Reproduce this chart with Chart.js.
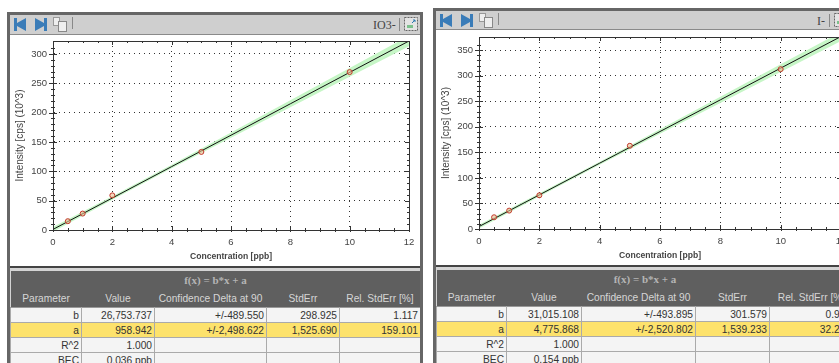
<!DOCTYPE html>
<html>
<head>
<meta charset="utf-8">
<script src="https://cdn.jsdelivr.net/npm/chart.js@4"></script>
<style>
html, body { margin: 0; padding: 0; background: #fff; width: 839px; height: 363px; overflow: hidden; }
body { position: relative; font-family: "Liberation Sans", Arial, sans-serif; color: #444; }
.panel { position: absolute; background: #d4d4d4; box-sizing: border-box; border: 3px solid #666; border-bottom: 0; overflow: hidden; }
.bar { position: absolute; left: 0; right: 0; top: 0; background: #cfcfcf; box-sizing: border-box; border-bottom: 1px solid #8a8a8a; }
.bar svg { position: absolute; left: 3px; top: 1px; }
.species { position: absolute; top: 3px; font: 12px "Liberation Serif", serif; color: #444; }
.sep { position: absolute; top: 3px; width: 1px; height: 13px; background: #888; }
.plot { position: absolute; background: #fff; border-bottom: 2px solid #444; }
canvas { display: block; }
table { position: absolute; border-collapse: collapse; table-layout: fixed; font-size: 10.2px; }
th { background: #5f5f5f; color: #d6d6d6; font-weight: normal; height: 18px; padding: 0; white-space: nowrap; }
th.formula { font: bold 11px "Liberation Serif", serif; color: #b5b5b5; height: 18px; }
td { background: #f4f4f4; border: 1px solid #aaa; border-top-color: #999; text-align: right; padding: 0 2px 0 0; height: 15px; line-height: 13px; color: #333; box-sizing: border-box; white-space: nowrap; }
tr.hl td { background: #fde26c; }
</style>
</head>
<body>
<div class="panel" id="panelA" style="left:7px;top:12px;width:416px;height:351px"></div>
<div class="panel" id="panelB" style="left:433px;top:8px;width:420px;height:355px"></div>
<script>
// Calibration points, intensity in 10^3 cps
const concentrations = [0.5, 1, 2, 5, 10];
const pointsA = [15, 28, 59, 133, 269];
const pointsB = [23, 36, 66, 163, 313];

// Fit line and confidence band
const bandX = [0, 2, 4, 6, 8, 10, 12];
const fitA = [1, 54.5, 108, 161.5, 215, 268.5, 322];
const upperA = [5, 57.5, 111, 166, 221, 276, 331];
const lowerA = [-3, 51.5, 105, 157, 209, 261, 313];
const fitB = [4.8, 66.8, 128.9, 190.9, 252.9, 315, 377];
const upperB = [8.5, 69.8, 131.9, 195.4, 258.9, 322.5, 386];
const lowerB = [1.1, 63.8, 125.9, 186.4, 246.9, 307.5, 368];

// Result tables
const tableHead = ['Parameter', 'Value', 'Confidence Delta at 90', 'StdErr', 'Rel. StdErr [%]'];
const rowNames = ['b', 'a', 'R^2', 'BEC'];
const valuesA = ['26,753.737', '958.942', '1.000', '0.036 ppb'];
const deltaA = ['+/-489.550', '+/-2,498.622', '', ''];
const stdErrA = ['298.925', '1,525.690', '', ''];
const relErrA = ['1.117', '159.101', '', ''];
const valuesB = ['31,015.108', '4,775.868', '1.000', '0.154 ppb'];
const deltaB = ['+/-493.895', '+/-2,520.802', '', ''];
const stdErrB = ['301.579', '1,539.233', '', ''];
const relErrB = ['0.972', '32.230', '', ''];

const textColor = '#444';
const axisFont = { family: '"Liberation Sans", Arial, sans-serif', size: 9.5 };

function pairs(xs, ys) {
    return xs.map((x, i) => ({ x: x, y: ys[i] }));
}

// Solid frame and short ticks on all four sides, the library only gives us the outer ones
const frameTicks = {
    id: 'frameTicks',
    afterDraw(chart) {
        const { ctx, chartArea: a, scales } = chart;
        ctx.save();
        ctx.strokeStyle = '#333';
        ctx.lineWidth = 1;
        ctx.strokeRect(Math.round(a.left) + 0.5, Math.round(a.top) + 0.5, Math.round(a.right - a.left), Math.round(a.bottom - a.top));
        ctx.beginPath();
        scales.x.ticks.forEach(t => {
            const px = Math.round(scales.x.getPixelForValue(t.value)) + 0.5;
            const len = t.value % 2 === 0 ? 4 : 2;
            ctx.moveTo(px, a.bottom - len); ctx.lineTo(px, a.bottom + 2);
            ctx.moveTo(px, a.top); ctx.lineTo(px, a.top + len);
        });
        scales.y.ticks.forEach(t => {
            if (t.value % 10 !== 0) return;
            const py = Math.round(scales.y.getPixelForValue(t.value)) + 0.5;
            const len = t.value % 50 === 0 ? 4 : 2;
            ctx.moveTo(a.left - len, py); ctx.lineTo(a.left + len, py);
            ctx.moveTo(a.right - len, py); ctx.lineTo(a.right + 1, py);
        });
        ctx.stroke();
        ctx.restore();
    }
};

function initCurveChart(canvas, points, fit, upper, lower, yMax, pad) {
    return new Chart(canvas, {
        type: 'scatter',
        plugins: [frameTicks],
        data: {
            datasets: [
                { order: 3, data: pairs(bandX, upper), showLine: true, borderWidth: 0, pointRadius: 0, fill: false },
                { order: 2, data: pairs(bandX, lower), showLine: true, borderWidth: 0, pointRadius: 0, fill: '-1', backgroundColor: '#c6f6c6' },
                { order: 1, data: pairs(bandX, fit), showLine: true, borderColor: '#111', borderWidth: 1, pointRadius: 0 },
                { order: 0, data: pairs(concentrations, points), pointRadius: 2.5, pointBorderWidth: 1, pointBorderColor: '#c0392b', pointBackgroundColor: 'rgba(240,190,150,0.6)' }
            ]
        },
        options: {
            responsive: false,
            animation: false,
            layout: { padding: pad },
            plugins: { legend: { display: false }, tooltip: { enabled: false } },
            scales: {
                x: {
                    type: 'linear', min: 0, max: 12,
                    afterFit(s) { s.height = 36; s.paddingLeft = 0; s.paddingRight = 0; },
                    title: { display: true, text: 'Concentration [ppb]', color: textColor, padding: { top: 3, bottom: 4 }, font: { ...axisFont, size: 8.6, weight: 'bold' } },
                    ticks: {
                        stepSize: 0.5, autoSkip: false, maxRotation: 0, color: textColor, font: axisFont, padding: 7,
                        callback: v => (v % 2 === 0 ? String(v) : '')
                    },
                    border: { color: '#222', width: 1, dash: ctx => (ctx.type === 'tick' && ctx.tick.value % 2 === 0 ? [1, 4] : []) },
                    grid: { color: ctx => (ctx.tick && ctx.tick.value % 2 === 0 ? '#333' : 'transparent'), drawTicks: false }
                },
                y: {
                    type: 'linear', min: 0, max: yMax,
                    afterFit(s) { s.width = 43; s.paddingTop = 0; s.paddingBottom = 0; },
                    title: { display: true, text: 'Intensity [cps] (10^3)', color: textColor, padding: { top: 4, bottom: 0 }, font: { ...axisFont, size: 10 } },
                    ticks: {
                        stepSize: 10, autoSkip: false, color: textColor, font: axisFont, padding: 6,
                        callback: v => (v % 50 === 0 ? String(v) : '')
                    },
                    border: { color: '#222', width: 1, dash: ctx => (ctx.type === 'tick' && ctx.tick.value % 50 === 0 ? [1, 4] : []) },
                    grid: { color: ctx => (ctx.tick && ctx.tick.value % 50 === 0 ? '#333' : 'transparent'), drawTicks: false }
                }
            }
        },
    });
}

function toolbar(panel, height, speciesName, speciesLeft, sepLeft, iconLeft) {
    const bar = document.createElement('div');
    bar.className = 'bar';
    bar.style.height = height + 'px';
    bar.innerHTML =
        '<svg width="62" height="16" viewBox="0 0 62 16">' +
        '<path d="M1 2h3v5l9-5v13l-9-5v5H1z" fill="#3a7cb8"/>' +
        '<path d="M22 2l9 5V2h3v13h-3v-5l-9 5z" fill="#3a7cb8"/>' +
        '<rect x="40.5" y="1.5" width="6" height="8" fill="#eee" stroke="#999"/>' +
        '<rect x="45.5" y="5.5" width="8" height="10" fill="#eee" stroke="#888"/>' +
        '<rect x="59" y="1" width="1" height="12" fill="#888"/></svg>' +
        '<span class="species" style="left:' + speciesLeft + 'px">' + speciesName + '</span>' +
        '<div class="sep" style="left:' + sepLeft + 'px"></div>' +
        '<svg width="14" height="14" viewBox="0 0 14 14" style="left:' + iconLeft + 'px;top:2px">' +
        '<rect x="0.5" y="0.5" width="13" height="13" fill="#e4e4e4" stroke="#666" stroke-dasharray="2 1"/>' +
        '<path d="M3 11h6v-3h-6z" fill="#7cc08c"/><path d="M8 6l3-3M9 3h2v2" stroke="#2a78b0" fill="none"/></svg>';
    panel.appendChild(bar);
}

function buildTable(panel, top, columns, values, delta, stdErr, relErr) {
    const table = document.createElement('table');
    table.style.left = '0px';
    table.style.top = top + 'px';
    table.style.width = columns.reduce((a, b) => a + b, 0) + 'px';
    let html = '<colgroup>' + columns.map(w => '<col style="width:' + w + 'px">').join('') + '</colgroup>';
    html += '<tr><th class="formula" colspan="5">f(x) = b*x + a</th></tr>';
    html += '<tr>' + tableHead.map(h => '<th>' + h + '</th>').join('') + '</tr>';
    rowNames.forEach((name, i) => {
        html += '<tr' + (name === 'a' ? ' class="hl"' : '') + '><td>' + name + '</td><td>' + values[i] + '</td><td>' +
            delta[i] + '</td><td>' + stdErr[i] + '</td><td>' + relErr[i] + '</td></tr>';
    });
    table.innerHTML = html;
    panel.appendChild(table);
}

function buildPanel(id, o) {
    const panel = document.getElementById(id);
    toolbar(panel, o.barHeight, o.species, o.speciesLeft, o.sepLeft, o.iconLeft);
    const plot = document.createElement('div');
    plot.className = 'plot';
    plot.style.cssText = 'left:0;top:' + o.plotTop + 'px;width:' + o.plotWidth + 'px;height:' + o.plotHeight + 'px';
    const canvas = document.createElement('canvas');
    canvas.width = o.plotWidth;
    canvas.height = o.plotHeight;
    plot.appendChild(canvas);
    panel.appendChild(plot);
    buildTable(panel, o.tableTop, o.columns, o.values, o.delta, o.stdErr, o.relErr);
    initCurveChart(canvas, o.points, o.fit, o.upper, o.lower, o.yMax, o.pad);
}

buildPanel('panelA', {
    barHeight: 20, species: 'IO3-', speciesLeft: 363, sepLeft: 389, iconLeft: 394,
    plotTop: 20, plotWidth: 410, plotHeight: 231,
    tableTop: 256, columns: [71, 73, 112, 73, 81],
    points: pointsA, fit: fitA, upper: upperA, lower: lowerA, yMax: 322,
    pad: { left: 0, right: 11, top: 6, bottom: 0 },
    values: valuesA, delta: deltaA, stdErr: stdErrA, relErr: relErrA
});
buildPanel('panelB', {
    barHeight: 19, species: 'I-', speciesLeft: 381, sepLeft: 393, iconLeft: 398,
    plotTop: 19, plotWidth: 417, plotHeight: 235,
    tableTop: 259, columns: [70, 75, 114, 74, 84],
    points: pointsB, fit: fitB, upper: upperB, lower: lowerB, yMax: 376,
    pad: { left: 0, right: 12, top: 7, bottom: 0 },
    values: valuesB, delta: deltaB, stdErr: stdErrB, relErr: relErrB
});
</script>
</body>
</html>
